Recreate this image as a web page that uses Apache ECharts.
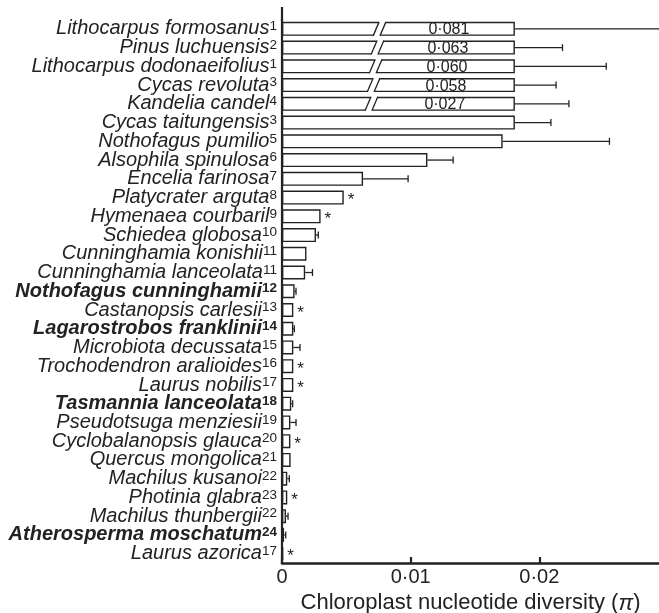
<!DOCTYPE html>
<html>
<head>
<meta charset="utf-8">
<script src="https://cdn.jsdelivr.net/npm/echarts@6/dist/echarts.min.js"></script>
<style>
html, body { margin: 0; padding: 0; background: #fff; }
#chart { width: 659px; height: 613px; }
</style>
</head>
<body>
<div id="chart"></div>
<script>
var species = ['Lithocarpus formosanus', 'Pinus luchuensis', 'Lithocarpus dodonaeifolius', 'Cycas revoluta',
	'Kandelia candel', 'Cycas taitungensis', 'Nothofagus pumilio', 'Alsophila spinulosa', 'Encelia farinosa',
	'Platycrater arguta', 'Hymenaea courbaril', 'Schiedea globosa', 'Cunninghamia konishii',
	'Cunninghamia lanceolata', 'Nothofagus cunninghamii', 'Castanopsis carlesii', 'Lagarostrobos franklinii',
	'Microbiota decussata', 'Trochodendron aralioides', 'Laurus nobilis', 'Tasmannia lanceolata',
	'Pseudotsuga menziesii', 'Cyclobalanopsis glauca', 'Quercus mongolica', 'Machilus kusanoi',
	'Photinia glabra', 'Machilus thunbergii', 'Atherosperma moschatum', 'Laurus azorica'];
var refs = [1, 2, 1, 3, 4, 3, 5, 6, 7, 8, 9, 10, 11, 11, 12, 13, 14, 15, 16, 17, 18, 19, 20, 21, 22, 23, 22, 24, 17];
var boldSpecies = ['Nothofagus cunninghamii', 'Lagarostrobos franklinii', 'Tasmannia lanceolata', 'Atherosperma moschatum'];
var starred = ['Platycrater arguta', 'Hymenaea courbaril', 'Castanopsis carlesii', 'Trochodendron aralioides',
	'Laurus nobilis', 'Cyclobalanopsis glauca', 'Photinia glabra', 'Laurus azorica'];
var diversity = [0.081, 0.063, 0.060, 0.058, 0.027, 0.0181, 0.01715, 0.0113, 0.0063, 0.0048, 0.0030, 0.00264,
	0.0019, 0.0018, 0.00098, 0.00088, 0.00088, 0.00088, 0.00088, 0.00088, 0.00072, 0.00065, 0.00065, 0.00067,
	0.00041, 0.00041, 0.00031, 0.00016, 0.0001];
// upper error, measured from the (drawn) bar end
var errors = [0.0125, 0.0037, 0.0071, 0.0032, 0.0042, 0.0028, 0.0083, 0.0020, 0.0035, null, null, 0.00018, null,
	0.00057, 0.00011, null, 0.00008, 0.00052, null, null, 0.00011, 0.00044, null, null, 0.00016, null, 0.00016,
	0.00013, null];
// bars above the cut are drawn broken, at this length
var barCut = 0.0181;
var breakAt = [0.00758, 0.00742, 0.00728, 0.00712, 0.00695];

var GRID = { left: 282, top: 19.5, right: 0, bottom: 50, containLabel: false, outerBoundsMode: 'none' };
var FONT = '"Liberation Sans", Arial, Helvetica, sans-serif';
var INK = '#222';

function fmt(v, d) {
	return v === 0 ? '0' : v.toFixed(d).replace('.', '\u00b7');
}

var barData = diversity.map(function(v, i) {
	var item = { value: Math.min(v, barCut) };
	if (starred.indexOf(species[i]) >= 0) {
		item.label = { show: true, position: 'right', distance: 4, formatter: '*',
			fontSize: 17, color: INK, fontFamily: FONT, offset: [0, 3] };
	}
	return item;
});

var errData = [];
errors.forEach(function(e, i) {
	if (e !== null) errData.push([Math.min(diversity[i], barCut), i, e]);
});

var breakData = [];
diversity.forEach(function(v, i) {
	if (v > barCut) breakData.push([breakAt[i], i, v]);
});

var chart = echarts.init(document.getElementById('chart'));
chart.setOption({
	animation: false,
	backgroundColor: '#fff',
	grid: GRID,
	xAxis: {
		type: 'value',
		min: 0,
		max: 0.0293,
		interval: 0.01,
		axisLine: { show: true, lineStyle: { color: INK, width: 2.6 } },
		axisTick: { show: true, inside: true, length: 6, lineStyle: { color: INK, width: 2.2 } },
		splitLine: { show: false },
		axisLabel: {
			showMaxLabel: false, margin: 4.5, fontSize: 20, color: INK, fontFamily: FONT,
			formatter: function(v) { return fmt(v, 2); }
		},
		name: '{t|Chloroplast nucleotide diversity (}{p|\u03c0}{t|)}',
		nameLocation: 'middle',
		nameGap: 26,
		nameTextStyle: {
			rich: {
				t: { fontSize: 22, color: INK, fontFamily: FONT },
				p: { fontSize: 22, color: INK, fontFamily: FONT, fontStyle: 'italic' }
			}
		}
	},
	yAxis: {
		type: 'category',
		inverse: true,
		data: species,
		axisLine: { show: true, lineStyle: { color: INK, width: 2.2 } },
		axisTick: { show: false },
		axisLabel: {
			margin: 5,
			interval: 0,
			showMinLabel: true,
			showMaxLabel: true,
			formatter: function(v, i) {
				var b = boldSpecies.indexOf(v) >= 0;
				return b ? '{nb|' + v + '}{sb|' + refs[i] + '}' : '{n|' + v + '}{s|' + refs[i] + '}';
			},
			rich: {
				n: { fontSize: 20, fontStyle: 'italic', color: INK, fontFamily: FONT, lineHeight: 19 },
				nb: { fontSize: 20, fontStyle: 'italic', fontWeight: 'bold', color: INK, fontFamily: FONT, lineHeight: 19 },
				s: { fontSize: 13.5, color: INK, fontFamily: FONT, lineHeight: 13, verticalAlign: 'top' },
				sb: { fontSize: 13.5, fontWeight: 'bold', color: INK, fontFamily: FONT, lineHeight: 13, verticalAlign: 'top' }
			}
		}
	},
	graphic: [{
		type: 'line',
		shape: { x1: GRID.left, y1: 7, x2: GRID.left, y2: GRID.top + 1 },
		style: { stroke: INK, lineWidth: 2.2 }
	}],
	series: [{
		type: 'bar',
		data: barData,
		barWidth: 14,
		itemStyle: { color: '#fff', borderColor: INK, borderWidth: 1.4 }
	}, {
		type: 'custom',
		z: 3,
		data: errData,
		encode: { x: 0, y: 1 },
		renderItem: function(params, api) {
			var idx = api.value(1);
			var p0 = api.coord([api.value(0), idx]);
			var p1 = api.coord([api.value(0) + api.value(2), idx]);
			var st = { stroke: INK, lineWidth: 1.3 };
			return { type: 'group', children: [
				{ type: 'line', shape: { x1: p0[0], y1: p0[1], x2: p1[0], y2: p1[1] }, style: st },
				{ type: 'line', shape: { x1: p1[0], y1: p1[1] - 3.5, x2: p1[0], y2: p1[1] + 3.5 }, style: st }
			] };
		}
	}, {
		type: 'custom',
		z: 4,
		data: breakData,
		encode: { x: 0, y: 1 },
		renderItem: function(params, api) {
			var idx = api.value(1);
			var c = api.coord([api.value(0), idx]);
			var end = api.coord([barCut, idx])[0];
			var yT = c[1] - 7, yB = c[1] + 7, s = 3, g = 3.4;
			var st = { stroke: INK, lineWidth: 1.3 };
			return { type: 'group', children: [
				{ type: 'polygon', shape: { points: [[c[0] + s - g, yT - 1.5], [c[0] + s + g, yT - 1.5],
					[c[0] - s + g, yB + 1.5], [c[0] - s - g, yB + 1.5]] }, style: { fill: '#fff' } },
				{ type: 'line', shape: { x1: c[0] + s - g, y1: yT, x2: c[0] - s - g, y2: yB }, style: st },
				{ type: 'line', shape: { x1: c[0] + s + g, y1: yT, x2: c[0] - s + g, y2: yB }, style: st },
				{ type: 'text', style: { text: fmt(api.value(2), 3), x: (c[0] + g + end) / 2, y: c[1] + 1,
					align: 'center', verticalAlign: 'middle', fontSize: 16, fontFamily: FONT, fill: INK } }
			] };
		}
	}]
});
</script>
</body>
</html>
